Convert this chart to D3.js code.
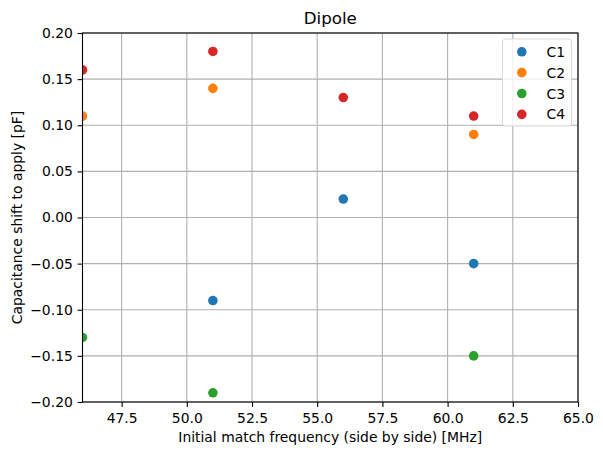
<!DOCTYPE html>
<html><head><meta charset="utf-8">
<script src="https://cdn.jsdelivr.net/npm/d3@7"></script>
<style>body{margin:0;background:#fff}svg{display:block}text{font-family:"DejaVu Sans",sans-serif;fill:#000}</style>
</head><body>
<script>
const seriesNames = ["C1", "C2", "C3", "C4"];
const colors = ["#1f77b4", "#ff7f0e", "#2ca02c", "#d62728"];
const c1 = [[51, -0.09], [56, 0.02], [61, -0.05]];
const c2 = [[46, 0.11], [51, 0.14], [61, 0.09]];
const c3 = [[46, -0.13], [51, -0.19], [61, -0.15]];
const c4 = [[46, 0.16], [51, 0.18], [56, 0.13], [61, 0.11]];
const xTicks = [47.5, 50.0, 52.5, 55.0, 57.5, 60.0, 62.5, 65.0];
const yTicks = [-0.20, -0.15, -0.10, -0.05, 0.00, 0.05, 0.10, 0.15, 0.20];
const allSeries = [c1, c2, c3, c4];

const W = 603, H = 455;
const FS = "13.9px";
const m = {left: 82.5, right: 578, top: 33, bottom: 402};
const svg = d3.select("body").append("svg").attr("width", W).attr("height", H);
const x = d3.scaleLinear().domain([46, 65]).range([m.left, m.right]);
const y = d3.scaleLinear().domain([-0.2, 0.2]).range([m.bottom, m.top]);

svg.append("defs").append("clipPath").attr("id", "clip")
  .append("rect").attr("x", m.left).attr("y", m.top).attr("width", m.right - m.left).attr("height", m.bottom - m.top);

// grid
const g = svg.append("g");
g.selectAll(".gx").data(xTicks).join("line")
  .attr("x1", d => x(d)).attr("x2", d => x(d)).attr("y1", m.top).attr("y2", m.bottom)
  .attr("stroke", "#b0b0b0").attr("stroke-width", 1.1);
g.selectAll(".gy").data(yTicks).join("line")
  .attr("y1", d => y(d)).attr("y2", d => y(d)).attr("x1", m.left).attr("x2", m.right)
  .attr("stroke", "#b0b0b0").attr("stroke-width", 1.1);

// points
const pts = svg.append("g").attr("clip-path", "url(#clip)");
allSeries.forEach((s, i) => {
  pts.selectAll(".p" + i).data(s).join("circle")
    .attr("cx", d => x(d[0])).attr("cy", d => y(d[1])).attr("r", 4.8).attr("fill", colors[i]);
});

// axes
const xa = svg.append("g").attr("transform", `translate(0,${m.bottom})`)
  .call(d3.axisBottom(x).tickValues(xTicks).tickFormat(d3.format(".1f")).tickSize(4.9).tickSizeOuter(0));
const ya = svg.append("g").attr("transform", `translate(${m.left},0)`)
  .call(d3.axisLeft(y).tickValues(yTicks).tickFormat(d => d3.format(".2f")(d).replace("-", "\u2212")).tickSize(4.9).tickSizeOuter(0));
[xa, ya].forEach(a => {
  a.select(".domain").remove();
  a.selectAll("line").attr("stroke", "#000").attr("stroke-width", 1.1);
  a.selectAll("text").style("font-size", FS).style("font-family", "DejaVu Sans");
});
xa.selectAll("text").attr("dy", "0").attr("y", 21);
ya.selectAll("text").attr("x", -9.7);

// spines
svg.append("rect").attr("x", m.left).attr("y", m.top).attr("width", m.right - m.left).attr("height", m.bottom - m.top)
  .attr("fill", "none").attr("stroke", "#000").attr("stroke-width", 1.1);

// labels
svg.append("text").attr("x", (m.left + m.right) / 2).attr("y", 24).attr("text-anchor", "middle")
  .style("font-size", "16.7px").text("Dipole");
svg.append("text").attr("x", (m.left + m.right) / 2).attr("y", 442).attr("text-anchor", "middle")
  .style("font-size", FS).text("Initial match frequency (side by side) [MHz]");
svg.append("text").attr("transform", `translate(21.5,${(m.top + m.bottom) / 2}) rotate(-90)`).attr("text-anchor", "middle")
  .style("font-size", FS).text("Capacitance shift to apply [pF]");

// legend
const lg = svg.append("g");
lg.append("rect").attr("x", 502.5).attr("y", 39).attr("width", 69).attr("height", 87).attr("rx", 3)
  .attr("fill", "#fff").attr("fill-opacity", 0.8).attr("stroke", "#d9d9d9").attr("stroke-width", 1);
seriesNames.forEach((n, i) => {
  const yy = 51.8 + i * 20.85;
  lg.append("circle").attr("cx", 521.8).attr("cy", yy).attr("r", 4.8).attr("fill", colors[i]);
  lg.append("text").attr("x", 546.5).attr("y", yy).attr("dy", "0.36em").style("font-size", FS).text(n);
});
</script>
</body></html>
